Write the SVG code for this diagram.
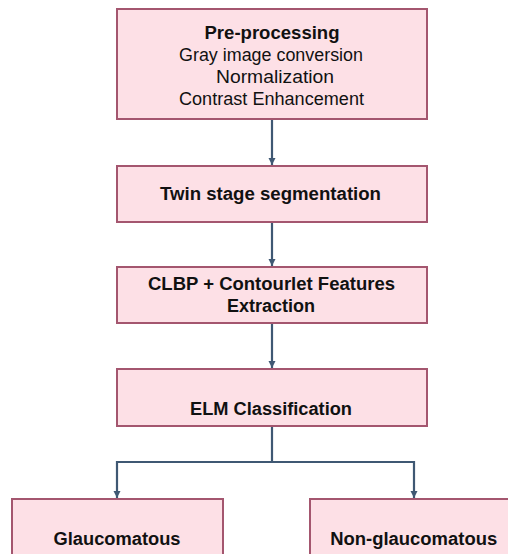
<svg xmlns="http://www.w3.org/2000/svg" width="508" height="554" viewBox="0 0 508 554">
<defs>
<style>
.box{fill:#fde0e6;stroke:#a4566f;stroke-width:2}
.t{font-family:"Liberation Sans",Arial,sans-serif;font-size:17.5px;fill:#111;text-anchor:middle}
.b{font-weight:bold}
.c{fill:none;stroke:#3f5873;stroke-width:2.2}
</style>
<marker id="ah" viewBox="0 0 10 10" refX="10" refY="5" markerWidth="3.2" markerHeight="3.2" orient="auto" markerUnits="strokeWidth">
<path d="M0,0 L10,5 L0,10 z" fill="#3f5873"/>
</marker>
</defs>
<g id="connectors">
<line class="c" x1="272" y1="120" x2="272" y2="165" marker-end="url(#ah)"/>
<line class="c" x1="272" y1="223" x2="272" y2="266" marker-end="url(#ah)"/>
<line class="c" x1="272" y1="324" x2="272" y2="368" marker-end="url(#ah)"/>
<polyline class="c" points="272,427 272,462 117,462 117,498" marker-end="url(#ah)"/>
<polyline class="c" points="272,462 414,462 414,498" marker-end="url(#ah)"/>
</g>
<g id="preprocessing">
<rect class="box" x="117" y="9" width="310" height="110"/>
<text class="t b" x="272" y="39" textLength="135" lengthAdjust="spacingAndGlyphs">Pre-processing</text>
<text class="t" x="271" y="61" textLength="184" lengthAdjust="spacingAndGlyphs">Gray image conversion</text>
<text class="t" x="275" y="83" textLength="118" lengthAdjust="spacingAndGlyphs">Normalization</text>
<text class="t" x="271.5" y="104.5" textLength="185" lengthAdjust="spacingAndGlyphs">Contrast Enhancement</text>
</g>
<g id="segmentation">
<rect class="box" x="117" y="166" width="310" height="56"/>
<text class="t b" x="270.5" y="199.5" textLength="221" lengthAdjust="spacingAndGlyphs">Twin stage segmentation</text>
</g>
<g id="features">
<rect class="box" x="117" y="267" width="310" height="56"/>
<text class="t b" x="271.5" y="290" textLength="247" lengthAdjust="spacingAndGlyphs">CLBP + Contourlet Features</text>
<text class="t b" x="271" y="312" textLength="88" lengthAdjust="spacingAndGlyphs">Extraction</text>
</g>
<g id="elm">
<rect class="box" x="117" y="369" width="310" height="57"/>
<text class="t b" x="271" y="415" textLength="162" lengthAdjust="spacingAndGlyphs">ELM Classification</text>
</g>
<g id="glaucomatous">
<rect class="box" x="12" y="499" width="211" height="70"/>
<text class="t b" x="117" y="545" textLength="127" lengthAdjust="spacingAndGlyphs">Glaucomatous</text>
</g>
<g id="nonglaucomatous">
<rect class="box" x="310" y="499" width="210" height="70"/>
<text class="t b" x="413.7" y="545" textLength="167" lengthAdjust="spacingAndGlyphs">Non-glaucomatous</text>
</g>
</svg>
